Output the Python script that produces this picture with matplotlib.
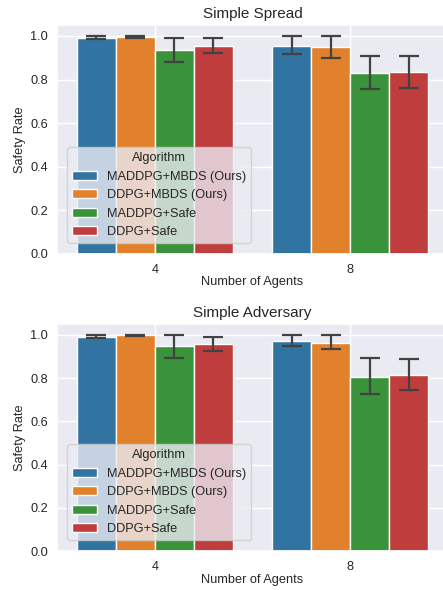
import numpy as np
import matplotlib
matplotlib.use("Agg")
import matplotlib.pyplot as plt
import seaborn as sns

sns.set_theme(style="darkgrid")
plt.rcParams['font.family'] = ['Arial', 'Liberation Sans', 'DejaVu Sans']

agents = ["4", "8"]
algorithms = ["MADDPG+MBDS (Ours)", "DDPG+MBDS (Ours)", "MADDPG+Safe", "DDPG+Safe"]
colors = ["#3274a1", "#e1812c", "#3a923a", "#c03d3e"]

# Simple Spread: mean, lower CI, upper CI  (rows = algorithm, cols = agents)
spread_mean = [[0.992, 0.955], [0.995, 0.948], [0.935, 0.828], [0.954, 0.833]]
spread_lo = [[0.986, 0.916], [0.990, 0.900], [0.882, 0.755], [0.920, 0.762]]
spread_hi = [[1.000, 1.000], [1.000, 1.000], [0.992, 0.909], [0.989, 0.909]]

# Simple Adversary
adv_mean = [[0.988, 0.972], [0.997, 0.964], [0.946, 0.807], [0.957, 0.815]]
adv_lo = [[0.985, 0.949], [0.996, 0.934], [0.895, 0.727], [0.925, 0.745]]
adv_hi = [[0.997, 1.000], [1.000, 1.000], [1.000, 0.894], [0.992, 0.889]]

fig = plt.figure(figsize=(4.43, 5.90), dpi=100)
W, H = 443, 590
ax1 = fig.add_axes([57 / W, 1 - 254 / H, (448 - 57) / W, (254 - 25) / H])
ax2 = fig.add_axes([57 / W, 1 - 551 / H, (448 - 57) / W, (551 - 324) / H])

FS = 9.2


def draw(ax, title, mean, lo, hi, xlab_y):
    x = np.arange(len(agents))
    n = len(algorithms)
    w = 0.8 / n
    for i, alg in enumerate(algorithms):
        pos = x - 0.4 + w * (i + 0.5)
        m = np.array(mean[i])
        err = [m - np.array(lo[i]), np.array(hi[i]) - m]
        ax.bar(pos, m, width=w, color=colors[i], edgecolor="white",
               linewidth=1, label=alg, zorder=2)
        ax.errorbar(pos, m, yerr=err, fmt="none", ecolor="#424242",
                    elinewidth=1.6, capsize=7.5, capthick=1.6, zorder=3)
    ax.set_xticks(x)
    ax.set_xticklabels(agents)
    ax.set_xlim(-0.5, 1.5)
    ax.set_ylim(0, 1.05)
    ax.set_yticks([0, 0.2, 0.4, 0.6, 0.8, 1.0])
    ax.set_xlabel("Number of Agents", fontsize=FS, va="center")
    ax.xaxis.set_label_coords(0.5, xlab_y)
    ax.set_ylabel("Safety Rate", fontsize=FS, va="center")
    ax.yaxis.set_label_coords(-0.095, 0.5)
    ax.set_title(title, fontsize=11, pad=5)
    ax.tick_params(axis="x", labelsize=FS, pad=1.5)
    ax.tick_params(axis="y", labelsize=FS, length=0, pad=6.5)
    ax.legend(title="Algorithm", loc="lower left", fontsize=FS, title_fontsize=FS,
              bbox_to_anchor=(0.01, 0.02), handlelength=1.9)


draw(ax1, "Simple Spread", spread_mean, spread_lo, spread_hi, -0.122)
draw(ax2, "Simple Adversary", adv_mean, adv_lo, adv_hi, -0.128)

fig.savefig("out.png", dpi=100)
